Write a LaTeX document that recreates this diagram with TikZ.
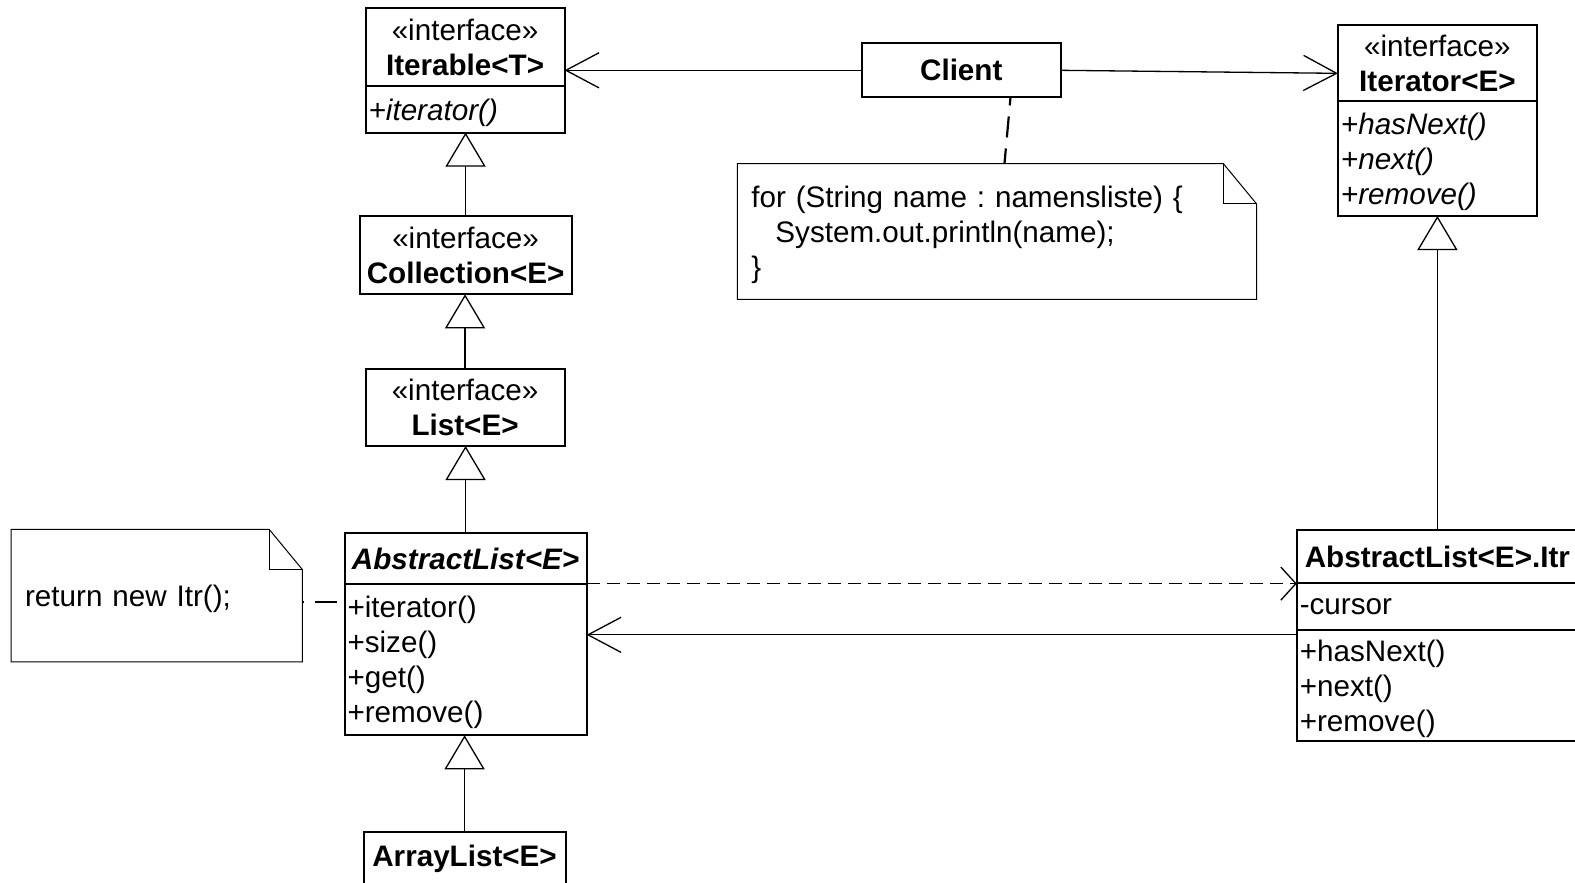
\documentclass[tikz,border=0pt]{standalone}
\usepackage{fontspec}
\setmainfont{Liberation Sans}
\usetikzlibrary{arrows.meta}
\usetikzlibrary{calc}
\frenchspacing

\begin{document}
\begin{tikzpicture}[x=1pt, y=-1pt,
        every node/.style={font=\fontsize{29.5}{35}\selectfont},
        box/.style={draw, line width=2pt, outer sep=0pt, inner sep=0pt, align=center},
        ops/.style={draw, line width=2pt, outer sep=0pt, inner xsep=3pt, inner ysep=0pt, align=left, anchor=north, text depth=#1},
        ops/.default=0pt,
        note/.style={inner xsep=14pt, inner ysep=0pt, align=left, outer sep=0pt, text depth=#1},
        note/.default=0pt,
        noteline/.style={line width=1pt},
        assoc/.style={line width=1.3pt, -{Straight Barb[length=33pt, width=35pt]}},
        dep/.style={line width=1.3pt, dash pattern=on 13pt off 7pt, -{Straight Barb[length=15pt, width=33pt]}},
        gen/.style={line width=1.3pt, -{Triangle[open, length=34pt, width=40pt, fill=white]}},
        anchorline/.style={line width=2.2pt, dash pattern=on 21pt off 11pt}]
        \useasboundingbox (0,0) rectangle (1568,879);
        \clip (0,0) rectangle (1568,879);
        % left column
        \node[box, minimum width=198pt, minimum height=78pt] (iterable) at (463,47) {«interface»\\\textbf{Iterable<T>}};
        \node[ops, text width=192pt, minimum height=46pt] (iterableops) at (iterable.south) {\textit{+iterator()}};
        \node[box, minimum width=211pt, minimum height=78pt] (collection) at (463.5,254) {«interface»\\\textbf{Collection<E>}};
        \node[box, minimum width=198pt, minimum height=77pt] (list) at (463,405.5) {«interface»\\\textbf{List<E>}};
        \node[box, minimum width=241pt, minimum height=50pt] (abstractlist) at (463.5,556) {\textbf{\textit{AbstractList<E>}}};
        \node[ops=105pt, text width=235pt, minimum height=151pt] (abstractlistops) at (abstractlist.south) {+iterator()\\+size()\\+get()\\+remove()};
        \node[box, minimum width=201pt, anchor=north, inner ysep=5pt, text height=30pt, text depth=20pt] (arraylist) at (462.5,828) {\textbf{ArrayList<E>}};
        % client and right column
        \node[box, minimum width=198pt, minimum height=54pt] (client) at (957,70) {\textbf{Client}};
        \node[box, minimum width=198pt, minimum height=76pt] (iterator) at (1431,63) {«interface»\\\textbf{Iterator<E>}};
        \node[ops=70pt, text width=192pt, minimum height=114pt] (iteratorops) at (iterator.south) {\textit{+hasNext()}\\\textit{+next()}\\\textit{+remove()}};
        \node[ops, anchor=north west, inner xsep=8pt, text width=284pt, minimum height=52pt] (itr) at (1291,528) {\textbf{AbstractList<E>.Itr}};
        \node[ops, anchor=north west, text width=294pt, minimum height=47pt] (itrattr) at (itr.south west) {-cursor};
        \node[ops=70pt, anchor=north west, text width=294pt, minimum height=111pt] (itrops) at (itrattr.south west) {+hasNext()\\+next()\\+remove()};
        % notes
        \node[note=70pt, text width=489pt, minimum height=135pt] (codenote) at (992.5,230.5) {for (String name : namensliste) \{\\\hspace*{24pt}System.out.println(name);\\\}};
        \node[note, text width=262pt, minimum height=132pt] (retnote) at (156,593) {return new Itr();};
        \foreach \n in {codenote, retnote} {
            \draw[noteline] (\n.north west) -- ([xshift=-33pt]\n.north east) -- ([yshift=-40pt]\n.north east) -- (\n.south east) -- (\n.south west) -- cycle;
            \draw[noteline] ([xshift=-33pt]\n.north east) |- ([yshift=-40pt]\n.north east);
        }
        % connectors
        \draw[assoc] (client.west) -- (client.west -| iterable.east);
        \draw[assoc] (client.east) -- ([yshift=-10pt]iterator.west);
        \draw[anchorline, dash phase=13pt] ([xshift=49pt]client.south) -- ([xshift=7.5pt]codenote.north);
        \draw[gen] (collection.north) -- (collection.north |- iterableops.south);
        \draw[gen] (list.north) -- (list.north |- collection.south);
        \draw[gen] (abstractlist.north) -- (abstractlist.north |- list.south);
        \draw[gen] (arraylist.north) -- (arraylist.north |- abstractlistops.south);
        \draw[gen] (iteratorops.south |- itr.north) -- (iteratorops.south);
        \draw[dep] (abstractlist.south east) -- (abstractlist.south east -| itr.west);
        \draw[assoc] ([yshift=-5pt]itrops.north west) -- ([yshift=-5pt]itrops.north west -| abstractlistops.east);
        \draw[anchorline, dash phase=19pt] ([yshift=-6pt]retnote.east) -- ([yshift=-6pt]retnote.east -| abstractlistops.west);
    \end{tikzpicture}
\end{document}
